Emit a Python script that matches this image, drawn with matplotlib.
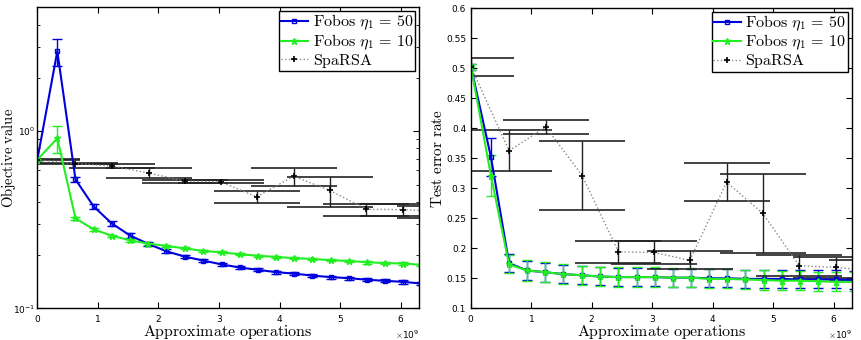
import numpy as np
import matplotlib
matplotlib.use("Agg")
import matplotlib.pyplot as plt
from matplotlib.ticker import ScalarFormatter

plt.rcParams['mathtext.fontset'] = 'cm'
plt.rcParams['font.family'] = ['DejaVu Sans']

# x positions (in 1e9 operations)
x_fobos = [0.0, 0.33, 0.63, 0.93, 1.23, 1.53, 1.83, 2.13, 2.43, 2.74, 3.04,
           3.34, 3.64, 3.94, 4.24, 4.54, 4.84, 5.14, 5.44, 5.74, 6.04, 6.34]
x_sparsa = [0.0, 0.63, 1.24, 1.84, 2.44, 3.03, 3.62, 4.23, 4.83, 5.43, 6.04, 6.64]

# objective value
obj_f50 = [0.69, 2.83, 0.534, 0.376, 0.301, 0.258, 0.231, 0.210, 0.196, 0.186, 0.177,
           0.170, 0.165, 0.160, 0.157, 0.153, 0.150, 0.148, 0.145, 0.143, 0.141, 0.138]
obj_f50_err = [0.01, 0.5, 0.015, 0.012, 0.009, 0.007, 0.005, 0.005, 0.004, 0.004, 0.003,
               0.003, 0.003, 0.003, 0.003, 0.003, 0.003, 0.003, 0.003, 0.003, 0.003, 0.003]
obj_f10 = [0.69, 0.913, 0.322, 0.279, 0.257, 0.242, 0.232, 0.225, 0.218, 0.211, 0.207,
           0.202, 0.198, 0.195, 0.192, 0.190, 0.187, 0.185, 0.182, 0.180, 0.179, 0.176]
obj_f10_err = [0.01, 0.155, 0.006, 0.005, 0.004, 0.004, 0.003, 0.003, 0.003, 0.003, 0.003,
               0.003, 0.003, 0.003, 0.003, 0.003, 0.003, 0.003, 0.003, 0.003, 0.003, 0.003]
obj_sp = [0.69, 0.657, 0.635, 0.580, 0.523, 0.518, 0.426, 0.557, 0.463, 0.362, 0.361, 0.352]
obj_sp_err = [0.003, 0.006, 0.015, 0.037, 0.01, 0.011, 0.033, 0.065, 0.088, 0.028, 0.028, 0.028]

# test error rate
err_f50 = [0.502, 0.352, 0.175, 0.163, 0.160, 0.157, 0.155, 0.153, 0.152, 0.152, 0.152,
           0.151, 0.151, 0.150, 0.150, 0.149, 0.149, 0.149, 0.148, 0.148, 0.148, 0.147]
err_f50_err = [0.005, 0.031, 0.015, 0.016, 0.016, 0.015, 0.015, 0.015, 0.015, 0.015, 0.015,
               0.015, 0.015, 0.015, 0.015, 0.015, 0.015, 0.015, 0.015, 0.015, 0.015, 0.015]
err_f10 = [0.502, 0.321, 0.173, 0.163, 0.160, 0.157, 0.155, 0.153, 0.152, 0.152, 0.152,
           0.151, 0.151, 0.149, 0.149, 0.148, 0.147, 0.146, 0.146, 0.145, 0.144, 0.144]
err_f10_err = [0.005, 0.034, 0.015, 0.017, 0.017, 0.016, 0.016, 0.016, 0.016, 0.016, 0.016,
               0.016, 0.016, 0.016, 0.016, 0.016, 0.016, 0.016, 0.016, 0.016, 0.016, 0.016]
err_sp = [0.502, 0.3625, 0.402, 0.321, 0.194, 0.193, 0.180, 0.310, 0.258, 0.171, 0.168, 0.163]
err_sp_err = [0.015, 0.034, 0.012, 0.057, 0.018, 0.019, 0.015, 0.032, 0.066, 0.017, 0.017, 0.017]

labels = [r'$\mathrm{Fobos}\ \eta_1\,=\,50$', r'$\mathrm{Fobos}\ \eta_1\,=\,10$', r'$\mathrm{SpaRSA}$']

fig = plt.figure(figsize=(8.62, 3.4), dpi=100)
ax1 = fig.add_axes([0.0433, 0.0932, 0.4428, 0.885])
ax2 = fig.add_axes([0.5464, 0.0932, 0.4417, 0.883])


def draw(ax, yf50, ef50, yf10, ef10, ysp, esp):
    xf = np.array(x_fobos) * 1e9
    xs = np.array(x_sparsa) * 1e9
    h1 = ax.errorbar(xf, yf50, yerr=ef50, color='#0000dd', lw=1.5, marker='s', ms=3.5,
                     mfc='none', mew=1, capsize=3.5, elinewidth=1, capthick=1)
    h2 = ax.errorbar(xf, yf10, yerr=ef10, color='#22ee22', lw=1.5, marker='*', ms=5,
                     mew=1, capsize=3.5, elinewidth=1, capthick=1)
    h3 = ax.errorbar(xs, ysp, yerr=esp, color='#888888', ls=':', lw=1, marker='+', ms=4,
                     mec='k', mew=1.2, ecolor='#222222', capsize=31, elinewidth=1, capthick=1)
    leg = ax.legend([h1[0], h2[0], h3[0]], labels, loc='upper right', fontsize=11.5,
                    fancybox=False, edgecolor='k', framealpha=1, handlelength=1.7,
                    handletextpad=0.3, borderpad=0.1, labelspacing=0.0,
                    borderaxespad=0.25)
    leg.get_frame().set_linewidth(1)
    ax.set_xlim(0, 6.3e9)
    fmt = ScalarFormatter(useMathText=True)
    fmt.set_powerlimits((0, 0))
    ax.xaxis.set_major_formatter(fmt)
    ax.xaxis.get_offset_text().set_fontsize(6.5)
    ax.tick_params(which='both', direction='in', top=True, right=True, labelsize=6.5)
    ax.tick_params(which='major', length=4)
    ax.tick_params(which='minor', length=2)
    ax.set_xlabel(r'$\mathrm{Approximate\ operations}$', fontsize=11.5, labelpad=-1)
    for s in ax.spines.values():
        s.set_linewidth(1)


draw(ax1, obj_f50, obj_f50_err, obj_f10, obj_f10_err, obj_sp, obj_sp_err)
ax1.set_yscale('log')
ax1.set_ylim(0.1, 5)
ax1.tick_params(axis='y', which='both', pad=1.5)
ax1.yaxis.set_label_coords(-0.05, 0.5)
ax1.set_ylabel(r'$\mathrm{Objective\ value}$', fontsize=10.5)

draw(ax2, err_f50, err_f50_err, err_f10, err_f10_err, err_sp, err_sp_err)
ax2.set_ylim(0.1, 0.6)
ax2.set_yticks(np.arange(0.1, 0.61, 0.05))
ax2.set_yticklabels(['0.1', '0.15', '0.2', '0.25', '0.3', '0.35', '0.4', '0.45', '0.5', '0.55', '0.6'])
ax2.yaxis.set_label_coords(-0.068, 0.5)
ax2.set_ylabel(r'$\mathrm{Test\ error\ rate}$', fontsize=11)

fig.savefig('out.png', dpi=100)
